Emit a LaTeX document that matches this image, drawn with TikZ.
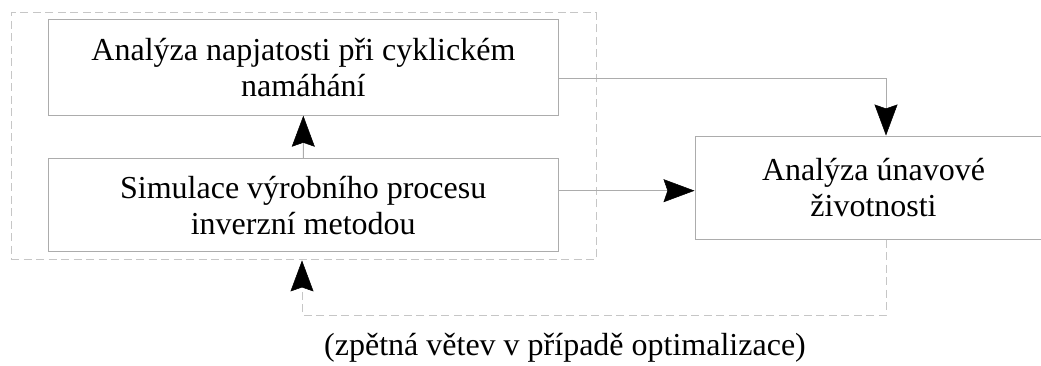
\documentclass[tikz,border=0pt]{standalone}
\usepackage{fontspec}
\setmainfont{Liberation Serif}
\usetikzlibrary{arrows.meta}

\begin{document}
\begin{tikzpicture}[
    x=1pt, y=-1pt,
    >={Stealth[length=31pt,width=23pt,inset=4pt,black,fill=black,line width=0.5pt]},
    group/.style={
        draw=gray!45,
        dashed,
        dash pattern=on 8pt off 4.5pt,
        line width=1pt,
        inner sep=0pt
    },
    box/.style={
        draw=gray!65,
        line width=1pt,
        align=center,
        inner sep=0pt,
        font=\fontsize{32}{36}\selectfont
    },
    link/.style={
        ->,
        draw=gray!65,
        line width=1pt
    },
    back/.style={
        ->,
        draw=gray!45,
        dashed,
        dash pattern=on 8pt off 4.5pt,
        line width=1pt
    }
]

\clip (0,0) rectangle (1041,365);

% ============================================================
% FRAME
% ============================================================

\node[group, minimum width=585pt, minimum height=247pt] (frame) at (303.5,136.4) {};

% ============================================================
% BOXES
% ============================================================

\node[box, minimum width=510pt, minimum height=96pt] (stress) at (303.4,67.2)
{Analýza napjatosti při cyklickém\\namáhání};

\node[box, minimum width=510pt, minimum height=93pt] (simul) at (303.2,205.3)
{Simulace výrobního procesu\\inverzní metodou};

\node[box, minimum width=357pt, minimum height=103pt] (fatigue) at (873.5,187.5)
{Analýza únavové\\životnosti};

% ============================================================
% CONNECTORS
% ============================================================

\coordinate (turn1) at (886,78);
\coordinate (fork)  at (626,190.7);
\coordinate (turn2) at (886,315);
\coordinate (turn3) at (302,315);

\draw[link] (simul) -- (stress);

\draw[link] (turn1 -| stress.east) -- (turn1) -- (turn1 |- fatigue.north);

\draw[link] (fork -| simul.east) -- (fork -| fatigue.west);

% feedback loop
\draw[back] (turn2 |- fatigue.south) -- (turn2) -- (turn3) -- (turn3 |- frame.south);

\node[anchor=base, font=\fontsize{32}{36}\selectfont] (note) at (565,355)
{(zpětná větev v případě optimalizace)};

\end{tikzpicture}
\end{document}
